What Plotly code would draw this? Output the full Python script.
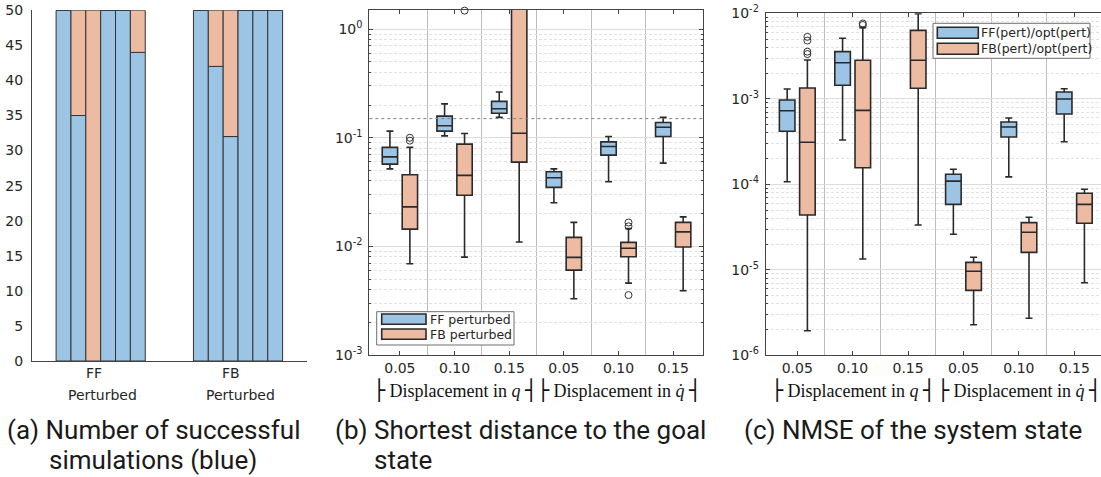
import math
import plotly.graph_objects as go

W, H = 1101, 477

# ---------------- data ----------------
controllers = ["FF", "FB"]
tick_labels = ["0.05", "0.10", "0.15", "0.05", "0.10", "0.15"]
positions = [1, 2, 3, 4, 5, 6]
runs_total = 50

# successful simulations per perturbation case (out of 50)
success_ff = [50, 35, 0, 50, 50, 44]
success_fb = [50, 42, 32, 50, 50, 50]

# (b) shortest distance to the goal state
dist_ff_upper = [0.115, 0.205, 0.264, 0.0517, 0.1028, 0.154]
dist_ff_q3 = [0.0815, 0.158, 0.216, 0.0486, 0.0916, 0.138]
dist_ff_med = [0.0667, 0.129, 0.185, 0.0428, 0.0832, 0.125]
dist_ff_q1 = [0.0572, 0.115, 0.168, 0.0349, 0.0692, 0.1028]
dist_ff_lower = [0.0517, 0.104, 0.154, 0.0252, 0.0393, 0.0584]

dist_fb_upper = [0.0815, 0.1096, 5.0, 0.01663, 0.0146, 0.0187]
dist_fb_q3 = [0.0456, 0.0873, 2.6, 0.0121, 0.01088, 0.01663]
dist_fb_med = [0.0231, 0.045, 0.110, 0.00792, 0.0096, 0.0136]
dist_fb_q1 = [0.01443, 0.0296, 0.0597, 0.00605, 0.00802, 0.00986]
dist_fb_lower = [0.00692, 0.00797, 0.01096, 0.0033, 0.00459, 0.0039]

dist_fb_outlier_pos = [1, 1, 2, 5, 5, 5]
dist_fb_outliers = [0.1, 0.094, 1.48, 0.0166, 0.0153, 0.00356]

dist_threshold = 0.15

# (c) NMSE of the system state
nmse_ff_pos = [1, 2, 4, 5, 6]
nmse_ff_upper = [1.30e-3, 5.1e-3, 1.50e-4, 5.96e-4, 1.31e-3]
nmse_ff_q3 = [9.68e-4, 3.56e-3, 1.31e-4, 5.35e-4, 1.20e-3]
nmse_ff_med = [7.26e-4, 2.64e-3, 1.09e-4, 4.68e-4, 9.95e-4]
nmse_ff_q1 = [4.17e-4, 1.44e-3, 5.83e-5, 3.57e-4, 6.65e-4]
nmse_ff_lower = [1.07e-4, 3.3e-4, 2.6e-5, 1.22e-4, 3.15e-4]

nmse_fb_pos = [1, 2, 3, 4, 5, 6]
nmse_fb_upper = [2.84e-3, 6.8e-3, 9.9e-3, 1.40e-5, 4.11e-5, 8.75e-5]
nmse_fb_q3 = [1.34e-3, 2.82e-3, 6.32e-3, 1.22e-5, 3.56e-5, 7.86e-5]
nmse_fb_med = [3.1e-4, 7.33e-4, 2.82e-3, 9.6e-6, 2.75e-5, 5.83e-5]
nmse_fb_q1 = [4.38e-5, 1.56e-4, 1.33e-3, 5.75e-6, 1.60e-5, 3.5e-5]
nmse_fb_lower = [1.94e-6, 1.34e-5, 3.34e-5, 2.28e-6, 2.71e-6, 7.06e-6]

nmse_fb_outlier_pos = [1, 1, 1, 1, 2, 2]
nmse_fb_outliers = [5.3e-3, 4.8e-3, 3.56e-3, 3.34e-3, 7.6e-3, 7.3e-3]

legend_b = ["FF perturbed", "FB perturbed"]
legend_c = ["FF(pert)/opt(pert)", "FB(pert)/opt(pert)"]

captions = [
    ("(a) Number of successful", "simulations (blue)"),
    ("(b) Shortest distance to the goal", "state"),
    ("(c) NMSE of the system state", None),
]

# ---------------- style ----------------
BLUE = "#9cc4e4"
ORANGE = "#edbaa2"
EDGE = "#2a2a2a"
AXIS = "#444444"
TXT = "#262626"
TICK_FONT = dict(family="DejaVu Sans", size=14, color=TXT)
BOXGAP = 0.27
BOXGROUPGAP = 0.23
SHIFT = (1 - BOXGAP) / 4  # centre offset of each box inside its group


def px(x):
    return x / W


def py(y):
    return 1 - y / H


fig = go.Figure()

# ---- (a) stacked success / failure bars, one bar per perturbation case ----
for k in range(len(success_ff)):
    ok = [success_ff[k], success_fb[k]]
    fail = [runs_total - v for v in ok]
    fig.add_trace(go.Bar(x=[1, 2], y=ok, offsetgroup=str(k), marker=dict(color=BLUE, line=dict(color="#333", width=1)),
                         xaxis="x", yaxis="y", showlegend=False))
    fig.add_trace(go.Bar(x=[1, 2], y=fail, base=ok, offsetgroup=str(k),
                         marker=dict(color=ORANGE, line=dict(color="#333", width=1)),
                         xaxis="x", yaxis="y", showlegend=False))


def box(pos, lo, q1, med, q3, hi, color, name, xa, ya):
    return go.Box(x=pos, lowerfence=lo, q1=q1, median=med, q3=q3, upperfence=hi,
                  fillcolor=color, line=dict(color=EDGE, width=1.6), whiskerwidth=0.45,
                  boxpoints=False, name=name, xaxis=xa, yaxis=ya, showlegend=False,
                  offsetgroup=name[:2])


def outliers(pos, vals, sign, xa, ya):
    return go.Scatter(x=[p + sign * SHIFT for p in pos], y=vals, mode="markers", cliponaxis=False,
                      marker=dict(symbol="circle-open", size=7, color="#333", line=dict(width=1)),
                      xaxis=xa, yaxis=ya, showlegend=False, hoverinfo="y")


# ---- (b) shortest distance ----
fig.add_trace(box(positions, dist_ff_lower, dist_ff_q1, dist_ff_med, dist_ff_q3, dist_ff_upper, BLUE, legend_b[0], "x2", "y2"))
fig.add_trace(box(positions, dist_fb_lower, dist_fb_q1, dist_fb_med, dist_fb_q3, dist_fb_upper, ORANGE, legend_b[1], "x2", "y2"))
fig.add_trace(outliers(dist_fb_outlier_pos, dist_fb_outliers, +1, "x2", "y2"))

# ---- (c) NMSE ----
fig.add_trace(box(nmse_ff_pos, nmse_ff_lower, nmse_ff_q1, nmse_ff_med, nmse_ff_q3, nmse_ff_upper, BLUE, legend_c[0], "x3", "y3"))
fig.add_trace(box(nmse_fb_pos, nmse_fb_lower, nmse_fb_q1, nmse_fb_med, nmse_fb_q3, nmse_fb_upper, ORANGE, legend_c[1], "x3", "y3"))
fig.add_trace(outliers(nmse_fb_outlier_pos, nmse_fb_outliers, +1, "x3", "y3"))


def log_ticks(lo, hi):
    vals = [10.0 ** e for e in range(lo, hi + 1)]
    text = ["10<sup>%d</sup>" % e for e in range(lo, hi + 1)]
    minor = [m * 10.0 ** e for e in range(lo, hi + 1) for m in range(2, 10)]
    return vals, text, minor


separators = [p + 0.5 for p in positions[:-1]]

yb_vals, yb_text, yb_minor = log_ticks(-3, 0)
yc_vals, yc_text, yc_minor = log_ticks(-6, -2)

common_x = dict(tickvals=positions, ticktext=tick_labels, ticks="inside", ticklen=4, tickcolor=AXIS,
                showline=True, linecolor=AXIS, linewidth=1, showgrid=False, zeroline=False,
                tickfont=TICK_FONT, ticklabelstandoff=0, automargin=False,
                minor=dict(tickvals=separators, showgrid=True, gridcolor="#bdbdbd", gridwidth=1, ticks=""))


def log_y(vals, text, minor, rng, mirror):
    return dict(type="log", range=rng, tickvals=vals, ticktext=text, ticks="inside", ticklen=4, tickcolor=AXIS,
                showline=True, linecolor=AXIS, linewidth=1, mirror=mirror, showgrid=True,
                gridcolor="#dcdcdc", gridwidth=1, zeroline=False, tickfont=TICK_FONT, ticklabelstandoff=3,
                automargin=False,
                minor=dict(tickvals=minor, ticks="inside", ticklen=2, tickcolor=AXIS, showgrid=True,
                           gridcolor="#e2e2e2", griddash="3px,2px", gridwidth=1))


fig.update_layout(
    width=W, height=H, margin=dict(l=0, r=0, t=0, b=0, autoexpand=False),
    paper_bgcolor="white", plot_bgcolor="white",
    barmode="group", bargap=0.351, bargroupgap=0,
    boxmode="group", boxgap=BOXGAP, boxgroupgap=BOXGROUPGAP,
    xaxis=dict(domain=[px(32), px(306.7)], range=[0.5, 2.5], tickvals=[1, 2], showticklabels=False,
               showline=True, linecolor=AXIS, ticks="", showgrid=False, zeroline=False, automargin=False),
    yaxis=dict(domain=[py(361), py(10.3)], range=[0, runs_total], dtick=5, showline=True, linecolor=AXIS,
               ticks="", showgrid=False, zeroline=False, automargin=False, tickfont=TICK_FONT,
               ticklabelstandoff=5),
    xaxis2=dict(domain=[px(369.3), px(702.7)], range=[0.44, 6.54], mirror="ticks", anchor="y2", **common_x),
    yaxis2=dict(domain=[py(355), py(10)], anchor="x2",
                **log_y(yb_vals, yb_text, yb_minor, [-3, math.log10(1.5)], "ticks")),
    xaxis3=dict(domain=[px(765.7), 1.0], range=[0.43, 6.482], mirror="ticks", anchor="y3", **common_x),
    yaxis3=dict(domain=[py(355.3), py(13.3)], anchor="x3",
                **log_y(yc_vals, yc_text, yc_minor, [-6, -2], False)),
    showlegend=False,
)

shapes = []
annotations = []

# dashed threshold in (b)
shapes.append(dict(type="line", xref="x2 domain", yref="y2", x0=0, x1=1, y0=dist_threshold, y1=dist_threshold,
                   line=dict(color="#808080", width=1, dash="3px,3px"), layer="above"))


def legend(frame, sw_x, rows, text_x, names):
    x0, y0, x1, y1 = frame
    shapes.append(dict(type="rect", xref="paper", yref="paper", x0=px(x0), x1=px(x1), y0=py(y1), y1=py(y0),
                       fillcolor="white", line=dict(color="#6e6e6e", width=1), layer="above"))
    for (ya, yb), color, name in zip(rows, [BLUE, ORANGE], names):
        shapes.append(dict(type="rect", xref="paper", yref="paper", x0=px(sw_x[0]), x1=px(sw_x[1]),
                           y0=py(yb), y1=py(ya), fillcolor=color, line=dict(color=EDGE, width=1.6), layer="above"))
        annotations.append(dict(text=name, xref="paper", yref="paper", x=px(text_x), y=py((ya + yb) / 2),
                                xanchor="left", yanchor="middle", showarrow=False,
                                font=dict(family="DejaVu Sans", size=12.5, color=TXT)))


legend((376.7, 311.7, 514, 345), (381.7, 426), [(314, 324.3), (329, 339.3)], 427.5, legend_b)
legend((933, 23.3, 1090, 58.3), (937.3, 978.3), [(27.3, 38.3), (43.3, 54.3)], 978.5, legend_c)

# group labels under the box plots
BAR = "<span style='font-family:DejaVu Sans;font-size:20px'>%s</span>"
group_labels = [BAR % "├" + " Displacement in <i>q</i> " + BAR % "┤",
                BAR % "├" + " Displacement in <i>q̇</i> " + BAR % "┤"]
for xa in ["x2", "x3"]:
    for centre, lab in zip([2, 5], group_labels):
        annotations.append(dict(text=lab, xref=xa, yref="paper", x=centre, y=py(390), xanchor="center",
                                yanchor="middle", showarrow=False,
                                font=dict(family="Liberation Serif", size=18, color="#111")))

# two-line category labels of the bar chart
for centre, name in zip([1, 2], controllers):
    annotations.append(dict(text=name, xref="x", yref="paper", x=centre, y=py(373), xanchor="center",
                            yanchor="middle", xshift=-7, showarrow=False, font=TICK_FONT))
    annotations.append(dict(text="Perturbed", xref="x", yref="paper", x=centre, y=py(394.5), xanchor="center",
                            yanchor="middle", xshift=2, showarrow=False, font=TICK_FONT))

# sub-figure captions
CAP_FONT = dict(family="Roboto", size=26, color="#1a1a1a")
cap_pos = [(5, 46.5), (333, 372), (742, None)]
for (l1, l2), (x1, x2) in zip(captions, cap_pos):
    annotations.append(dict(text=l1, xref="paper", yref="paper", x=px(x1), y=py(430), xanchor="left",
                            yanchor="middle", showarrow=False, font=CAP_FONT))
    if l2:
        annotations.append(dict(text=l2, xref="paper", yref="paper", x=px(x2), y=py(459.5), xanchor="left",
                                yanchor="middle", showarrow=False, font=CAP_FONT))

fig.update_layout(shapes=shapes, annotations=annotations)
fig.write_html("out.html")
